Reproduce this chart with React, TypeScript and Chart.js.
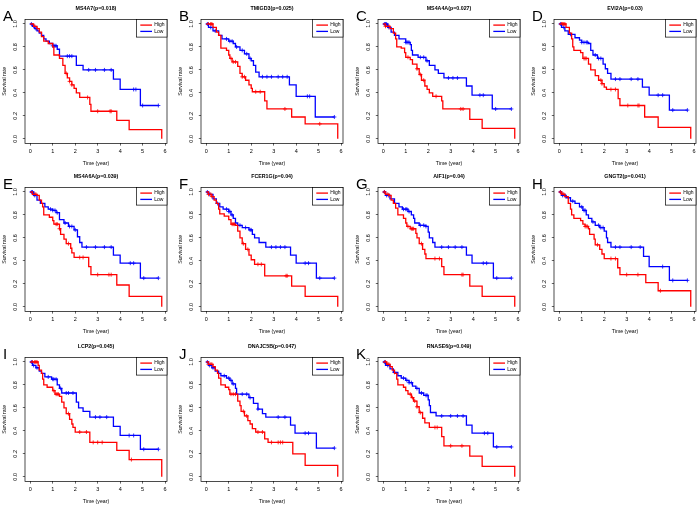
import React, { useEffect, useRef } from 'react';
import { Chart, registerables } from 'chart.js';
Chart.register(...registerables);

// ---- axis / labels ----
const X_TICKS = [0, 1, 2, 3, 4, 5, 6];
const Y_TICKS = [0, 0.2, 0.4, 0.6, 0.8, 1.0];
const X_MIN = -0.234, X_MAX = 6.084, Y_MIN = -0.04, Y_MAX = 1.04;
const X_TITLE = 'Time (year)';
const Y_TITLE = 'Survival rate';
const LEGEND_LABELS = ['High', 'Low'];
const RED = '#FF0000';
const BLUE = '#0000FF';

const LETTERS = ['A', 'B', 'C', 'D', 'E', 'F', 'G', 'H', 'I', 'J', 'K'];
const GENES = ['MS4A7', 'TMIGD3', 'MS4A4A', 'EVI2A', 'MS4A6A', 'FCER1G', 'AIF1', 'GNGT2', 'LCP2', 'DNAJC5B', 'RNASE6'];
const PVALUES = ['0.018', '0.025', '0.027', '0.03', '0.039', '0.04', '0.04', '0.041', '0.045', '0.047', '0.049'];

// ---- A ----
const A_HIGH_T = [0, 0.15, 0.3, 0.4, 0.5, 0.6, 0.8, 1.0, 1.05, 1.3, 1.45, 1.55, 1.65, 1.75, 1.85, 1.95, 2.05, 2.2, 2.65, 2.7, 3.85, 4.4, 5.85];
const A_HIGH_S = [1.0, 0.98, 0.96, 0.93, 0.89, 0.85, 0.83, 0.80, 0.73, 0.70, 0.64, 0.57, 0.53, 0.50, 0.47, 0.44, 0.40, 0.36, 0.30, 0.24, 0.16, 0.08, 0.0];
const A_HIGH_C = [0.2, 0.3, 1.6, 1.75, 1.85, 2.55, 3.0, 3.55, 3.6];
const A_LOW_T = [0, 0.1, 0.2, 0.3, 0.4, 0.5, 0.6, 0.7, 0.85, 1.0, 1.2, 1.3, 2.05, 2.35, 3.7, 4.0, 4.9, 5.7];
const A_LOW_S = [1.0, 0.98, 0.96, 0.94, 0.92, 0.90, 0.87, 0.85, 0.83, 0.81, 0.78, 0.72, 0.64, 0.60, 0.52, 0.43, 0.29, 0.29];
const A_LOW_C = [0.05, 0.15, 0.25, 1.0, 1.05, 1.1, 1.15, 1.65, 1.75, 1.85, 2.6, 2.9, 3.3, 3.6, 4.6, 4.7, 5.0, 5.7];

// ---- B ----
const B_HIGH_T = [0, 0.3, 0.45, 0.55, 0.65, 0.9, 1.0, 1.05, 1.15, 1.4, 1.5, 1.6, 1.75, 1.9, 2.0, 2.05, 2.6, 2.7, 3.8, 4.4, 5.85];
const B_HIGH_S = [1.0, 0.97, 0.93, 0.90, 0.79, 0.77, 0.73, 0.70, 0.67, 0.63, 0.57, 0.54, 0.51, 0.47, 0.44, 0.41, 0.33, 0.26, 0.19, 0.13, 0.0];
const B_HIGH_C = [0.1, 0.2, 0.25, 1.1, 1.2, 1.3, 1.6, 1.7, 2.2, 2.4, 3.5, 5.05];
const B_LOW_T = [0, 0.1, 0.3, 0.55, 0.7, 1.0, 1.2, 1.3, 1.5, 1.7, 1.9, 2.0, 2.1, 2.2, 2.35, 3.7, 4.0, 4.85, 5.7];
const B_LOW_S = [1.0, 0.97, 0.94, 0.90, 0.87, 0.85, 0.83, 0.80, 0.77, 0.74, 0.70, 0.68, 0.64, 0.58, 0.54, 0.47, 0.37, 0.19, 0.19];
const B_LOW_C = [0.05, 0.2, 0.4, 0.9, 1.05, 1.15, 1.35, 1.6, 1.8, 1.95, 2.5, 2.7, 2.9, 3.2, 3.4, 3.6, 4.5, 4.6, 5.7];

// ---- C ----
const C_HIGH_T = [0, 0.1, 0.3, 0.45, 0.55, 0.6, 0.8, 0.95, 1.0, 1.2, 1.3, 1.5, 1.6, 1.7, 1.85, 1.95, 2.05, 2.2, 2.6, 2.65, 3.85, 4.4, 5.85];
const C_HIGH_S = [1.0, 0.98, 0.96, 0.92, 0.87, 0.80, 0.79, 0.75, 0.71, 0.69, 0.65, 0.61, 0.56, 0.51, 0.46, 0.43, 0.40, 0.37, 0.33, 0.26, 0.17, 0.09, 0.0];
const C_HIGH_C = [0.1, 0.2, 0.25, 1.1, 1.5, 1.65, 1.8, 2.35, 3.45, 3.55];
const C_LOW_T = [0, 0.2, 0.35, 0.5, 0.7, 1.0, 1.2, 1.25, 1.3, 1.55, 1.9, 2.05, 2.3, 2.45, 2.7, 3.7, 3.95, 4.85, 5.7];
const C_LOW_S = [1.0, 0.97, 0.93, 0.90, 0.87, 0.84, 0.82, 0.77, 0.73, 0.71, 0.68, 0.64, 0.60, 0.57, 0.53, 0.46, 0.38, 0.26, 0.26];
const C_LOW_C = [0.05, 0.1, 0.15, 0.25, 1.0, 1.05, 1.1, 1.15, 1.65, 1.8, 1.95, 2.9, 3.1, 3.3, 4.3, 4.45, 5.0, 5.7];

// ---- D ----
const D_HIGH_T = [0, 0.3, 0.45, 0.55, 0.6, 0.65, 0.95, 1.05, 1.3, 1.4, 1.6, 1.75, 1.9, 2.0, 2.1, 2.62, 2.7, 3.8, 4.4, 5.85];
const D_HIGH_S = [1.0, 0.97, 0.92, 0.87, 0.80, 0.77, 0.75, 0.70, 0.65, 0.60, 0.55, 0.51, 0.48, 0.45, 0.43, 0.35, 0.29, 0.19, 0.10, 0.0];
const D_HIGH_C = [0.1, 0.15, 0.2, 0.25, 1.1, 1.15, 1.2, 1.85, 1.9, 2.3, 2.5, 3.05, 3.5, 3.55];
const D_LOW_T = [0, 0.1, 0.25, 0.4, 0.7, 0.9, 1.0, 1.3, 1.4, 1.5, 1.7, 1.95, 2.05, 2.15, 2.3, 3.7, 4.0, 4.9, 5.7];
const D_LOW_S = [1.0, 0.97, 0.94, 0.91, 0.88, 0.86, 0.84, 0.83, 0.77, 0.73, 0.70, 0.65, 0.61, 0.57, 0.52, 0.45, 0.38, 0.25, 0.25];
const D_LOW_C = [0.05, 0.2, 0.5, 1.0, 1.1, 1.2, 1.25, 1.6, 1.75, 1.85, 2.5, 2.7, 3.2, 3.5, 4.4, 4.6, 5.05, 5.7];

// ---- E ----
const E_HIGH_T = [0, 0.1, 0.3, 0.4, 0.5, 0.55, 0.6, 0.85, 1.0, 1.05, 1.3, 1.35, 1.5, 1.6, 1.8, 1.85, 1.95, 2.6, 2.7, 3.85, 4.4, 5.85];
const E_HIGH_S = [1.0, 0.98, 0.97, 0.93, 0.90, 0.87, 0.80, 0.78, 0.75, 0.72, 0.68, 0.63, 0.59, 0.55, 0.51, 0.47, 0.43, 0.35, 0.28, 0.19, 0.09, 0.0];
const E_HIGH_C = [0.15, 0.2, 0.25, 1.15, 1.2, 1.3, 1.7, 2.2, 2.35, 3.0, 3.5, 3.6];
const E_LOW_T = [0, 0.15, 0.3, 0.45, 0.65, 0.8, 1.0, 1.15, 1.3, 1.5, 1.7, 1.95, 2.1, 2.2, 2.3, 3.7, 4.0, 4.9, 5.7];
const E_LOW_S = [1.0, 0.97, 0.93, 0.90, 0.87, 0.85, 0.84, 0.82, 0.76, 0.73, 0.70, 0.67, 0.61, 0.56, 0.52, 0.45, 0.38, 0.25, 0.25];
const E_LOW_C = [0.05, 0.1, 0.2, 0.9, 1.0, 1.1, 1.2, 1.55, 1.75, 1.85, 2.0, 2.5, 2.9, 3.3, 3.6, 4.45, 4.6, 5.05, 5.7];

// ---- F ----
const F_HIGH_T = [0, 0.1, 0.25, 0.35, 0.45, 0.55, 0.6, 0.8, 1.0, 1.1, 1.3, 1.4, 1.5, 1.6, 1.75, 1.9, 2.0, 2.15, 2.6, 3.8, 4.4, 5.85];
const F_HIGH_S = [1.0, 0.98, 0.96, 0.93, 0.90, 0.85, 0.81, 0.79, 0.76, 0.72, 0.71, 0.66, 0.60, 0.55, 0.50, 0.45, 0.41, 0.37, 0.27, 0.18, 0.09, 0.0];
const F_HIGH_C = [0.1, 0.2, 0.25, 1.15, 1.2, 1.25, 1.65, 1.85, 2.3, 2.45, 3.55, 3.6];
const F_LOW_T = [0, 0.1, 0.3, 0.45, 0.6, 0.75, 1.0, 1.1, 1.2, 1.3, 1.4, 1.6, 1.9, 2.05, 2.15, 2.35, 2.65, 3.75, 4.0, 4.9, 5.7];
const F_LOW_S = [1.0, 0.98, 0.94, 0.90, 0.87, 0.85, 0.83, 0.80, 0.77, 0.73, 0.71, 0.69, 0.67, 0.63, 0.60, 0.56, 0.52, 0.45, 0.38, 0.25, 0.25];
const F_LOW_C = [0.05, 0.15, 0.5, 0.9, 1.0, 1.05, 1.15, 1.5, 1.75, 1.95, 2.0, 2.9, 3.1, 3.3, 3.5, 4.4, 4.55, 5.05, 5.7];

// ---- G ----
const G_HIGH_T = [0, 0.1, 0.25, 0.35, 0.45, 0.55, 0.65, 0.9, 1.0, 1.05, 1.2, 1.45, 1.5, 1.6, 1.75, 1.85, 1.9, 2.6, 2.7, 3.85, 4.4, 5.85];
const G_HIGH_S = [1.0, 0.98, 0.97, 0.93, 0.90, 0.86, 0.80, 0.77, 0.73, 0.70, 0.68, 0.64, 0.60, 0.55, 0.50, 0.46, 0.42, 0.35, 0.28, 0.18, 0.09, 0.0];
const G_HIGH_C = [0.05, 0.2, 0.25, 1.1, 1.25, 1.3, 1.35, 1.7, 2.3, 2.5, 3.5, 3.55];
const G_LOW_T = [0, 0.1, 0.3, 0.5, 0.7, 0.85, 1.1, 1.25, 1.35, 1.4, 1.6, 1.9, 2.0, 2.05, 2.2, 2.3, 3.7, 3.95, 4.9, 5.7];
const G_LOW_S = [1.0, 0.97, 0.94, 0.90, 0.87, 0.85, 0.83, 0.80, 0.77, 0.73, 0.71, 0.70, 0.65, 0.60, 0.56, 0.52, 0.45, 0.38, 0.25, 0.25];
const G_LOW_C = [0.05, 0.15, 0.25, 0.9, 1.0, 1.05, 1.15, 1.65, 1.8, 1.9, 2.6, 2.9, 3.2, 3.5, 4.45, 4.6, 5.05, 5.7];

// ---- H ----
const H_HIGH_T = [0, 0.1, 0.25, 0.4, 0.5, 0.55, 0.65, 0.95, 1.05, 1.15, 1.3, 1.35, 1.55, 1.6, 1.8, 1.9, 2.0, 2.6, 2.7, 3.85, 4.4, 5.85];
const H_HIGH_S = [1.0, 0.98, 0.96, 0.90, 0.85, 0.80, 0.77, 0.75, 0.72, 0.70, 0.68, 0.63, 0.59, 0.54, 0.50, 0.46, 0.42, 0.34, 0.28, 0.21, 0.14, 0.0];
const H_HIGH_C = [0.05, 0.15, 0.2, 1.15, 1.2, 1.25, 1.7, 2.3, 2.5, 3.0, 3.5, 4.5];
const H_LOW_T = [0, 0.1, 0.3, 0.5, 0.7, 0.9, 1.05, 1.2, 1.3, 1.45, 1.6, 1.8, 2.0, 2.1, 2.15, 2.3, 3.75, 4.0, 4.9, 5.7];
const H_LOW_S = [1.0, 0.97, 0.95, 0.92, 0.90, 0.87, 0.84, 0.80, 0.77, 0.74, 0.71, 0.69, 0.66, 0.60, 0.56, 0.52, 0.44, 0.35, 0.23, 0.23];
const H_LOW_C = [0.05, 0.15, 0.25, 0.6, 1.0, 1.1, 1.15, 1.5, 1.75, 1.85, 1.95, 2.5, 2.7, 3.2, 3.6, 4.6, 5.05, 5.7];

// ---- I ----
const I_HIGH_T = [0, 0.35, 0.4, 0.5, 0.55, 0.6, 0.75, 1.0, 1.1, 1.3, 1.4, 1.5, 1.6, 1.75, 1.85, 1.9, 2.0, 2.65, 3.85, 4.4, 5.85];
const I_HIGH_S = [1.0, 0.97, 0.93, 0.90, 0.85, 0.80, 0.78, 0.75, 0.72, 0.70, 0.65, 0.60, 0.55, 0.50, 0.46, 0.43, 0.39, 0.30, 0.23, 0.15, 0.0];
const I_HIGH_C = [0.1, 0.2, 0.25, 0.3, 1.05, 1.15, 1.2, 1.25, 1.7, 2.2, 2.5, 2.8, 3.0, 3.2, 4.5];
const I_LOW_T = [0, 0.1, 0.25, 0.4, 0.5, 0.65, 0.95, 1.2, 1.3, 1.4, 2.05, 2.15, 2.35, 2.65, 3.7, 4.0, 4.9, 5.7];
const I_LOW_S = [1.0, 0.97, 0.95, 0.92, 0.90, 0.87, 0.85, 0.80, 0.77, 0.73, 0.65, 0.60, 0.57, 0.52, 0.44, 0.36, 0.24, 0.24];
const I_LOW_C = [0.05, 0.15, 0.3, 0.8, 1.0, 1.05, 1.15, 1.35, 1.6, 1.7, 1.9, 2.9, 3.1, 3.4, 4.4, 4.6, 5.05, 5.7];

// ---- J ----
const J_HIGH_T = [0, 0.1, 0.3, 0.4, 0.5, 0.55, 0.65, 0.85, 1.0, 1.05, 1.4, 1.5, 1.55, 1.7, 1.85, 1.95, 2.05, 2.2, 2.6, 2.75, 3.85, 4.4, 5.85];
const J_HIGH_S = [1.0, 0.98, 0.96, 0.93, 0.90, 0.86, 0.80, 0.78, 0.76, 0.72, 0.66, 0.62, 0.57, 0.53, 0.49, 0.46, 0.42, 0.39, 0.33, 0.30, 0.20, 0.10, 0.0];
const J_HIGH_C = [0.1, 0.2, 0.25, 1.1, 1.2, 1.3, 1.65, 1.8, 2.3, 2.5, 2.9, 3.2, 3.3, 3.4];
const J_LOW_T = [0, 0.1, 0.25, 0.4, 0.55, 0.65, 0.9, 1.05, 1.15, 1.3, 1.35, 1.9, 2.1, 2.3, 2.5, 2.65, 3.75, 3.95, 4.9, 5.7];
const J_LOW_S = [1.0, 0.97, 0.95, 0.92, 0.90, 0.88, 0.86, 0.84, 0.81, 0.77, 0.72, 0.69, 0.64, 0.59, 0.55, 0.52, 0.45, 0.38, 0.25, 0.25];
const J_LOW_C = [0.05, 0.15, 0.3, 0.8, 1.0, 1.1, 1.2, 1.6, 1.8, 1.95, 2.3, 3.2, 3.5, 4.4, 4.55, 5.7];

// ---- K ----
const K_HIGH_T = [0, 0.15, 0.3, 0.4, 0.5, 0.6, 0.65, 0.9, 1.0, 1.1, 1.25, 1.35, 1.5, 1.6, 1.75, 1.85, 2.05, 2.6, 2.7, 3.85, 4.4, 5.85];
const K_HIGH_S = [1.0, 0.98, 0.96, 0.93, 0.90, 0.85, 0.80, 0.78, 0.75, 0.72, 0.69, 0.66, 0.61, 0.56, 0.51, 0.47, 0.43, 0.35, 0.27, 0.18, 0.09, 0.0];
const K_HIGH_C = [0.1, 0.2, 0.25, 1.2, 1.3, 1.4, 1.5, 1.65, 2.3, 2.4, 3.0, 3.5];
const K_LOW_T = [0, 0.1, 0.3, 0.45, 0.65, 0.8, 1.0, 1.15, 1.3, 1.45, 1.6, 1.8, 2.0, 2.05, 2.1, 2.35, 3.7, 3.95, 4.9, 5.7];
const K_LOW_S = [1.0, 0.97, 0.94, 0.91, 0.88, 0.86, 0.84, 0.82, 0.79, 0.77, 0.73, 0.71, 0.67, 0.62, 0.56, 0.53, 0.45, 0.38, 0.26, 0.26];
const K_LOW_C = [0.05, 0.2, 0.5, 0.9, 1.05, 1.15, 1.25, 1.5, 1.7, 1.9, 1.95, 2.6, 3.0, 3.3, 3.55, 4.5, 4.65, 5.05, 5.7];

const PANELS = [
  [A_HIGH_T, A_HIGH_S, A_HIGH_C, A_LOW_T, A_LOW_S, A_LOW_C],
  [B_HIGH_T, B_HIGH_S, B_HIGH_C, B_LOW_T, B_LOW_S, B_LOW_C],
  [C_HIGH_T, C_HIGH_S, C_HIGH_C, C_LOW_T, C_LOW_S, C_LOW_C],
  [D_HIGH_T, D_HIGH_S, D_HIGH_C, D_LOW_T, D_LOW_S, D_LOW_C],
  [E_HIGH_T, E_HIGH_S, E_HIGH_C, E_LOW_T, E_LOW_S, E_LOW_C],
  [F_HIGH_T, F_HIGH_S, F_HIGH_C, F_LOW_T, F_LOW_S, F_LOW_C],
  [G_HIGH_T, G_HIGH_S, G_HIGH_C, G_LOW_T, G_LOW_S, G_LOW_C],
  [H_HIGH_T, H_HIGH_S, H_HIGH_C, H_LOW_T, H_LOW_S, H_LOW_C],
  [I_HIGH_T, I_HIGH_S, I_HIGH_C, I_LOW_T, I_LOW_S, I_LOW_C],
  [J_HIGH_T, J_HIGH_S, J_HIGH_C, J_LOW_T, J_LOW_S, J_LOW_C],
  [K_HIGH_T, K_HIGH_S, K_HIGH_C, K_LOW_T, K_LOW_S, K_LOW_C],
];

// ---- layout ----
const COL_X = [0, 176, 353, 529];
const ROW_Y = [0, 168, 338];
const PANEL_W = 176;
const PANEL_H = 168;
const PLOT_LEFT = 25;
const PLOT_TOP = 19.4;
const PLOT_W = 142;
const PLOT_H = 124;
const FONT = "'Liberation Sans', Arial, Helvetica, sans-serif";

function stepAt(ts: number[], ss: number[], t: number) {
  let v = ss[0];
  for (let i = 0; i < ts.length; i++) if (ts[i] <= t) v = ss[i];
  return v;
}

const framePlugin = {
  id: 'rFrame',
  afterDraw(chart: any) {
    const { ctx, chartArea } = chart;
    const { left, right, top, bottom } = chartArea;
    ctx.save();
    ctx.strokeStyle = '#000';
    ctx.lineWidth = 0.7;
    ctx.strokeRect(left, top, right - left, bottom - top);
    // legend (top right)
    const w = 30.5, h = 17.7;
    ctx.fillStyle = '#fff';
    ctx.fillRect(right - w, top, w, h);
    ctx.strokeRect(right - w, top, w, h);
    const colors = [RED, BLUE];
    const ys = [top + 5.7, top + 12];
    ctx.font = `5px ${FONT}`;
    ctx.textBaseline = 'middle';
    ctx.textAlign = 'left';
    for (let i = 0; i < 2; i++) {
      ctx.strokeStyle = colors[i];
      ctx.lineWidth = 1.3;
      ctx.beginPath();
      ctx.moveTo(right - 26.7, ys[i]);
      ctx.lineTo(right - 15, ys[i]);
      ctx.stroke();
      ctx.fillStyle = '#000';
      ctx.fillText(LEGEND_LABELS[i], right - 12.7, ys[i]);
    }
    ctx.restore();
  },
};

function KMPanel({ idx }: { idx: number }) {
  const ref = useRef<HTMLCanvasElement>(null);
  useEffect(() => {
    const [hT, hS, hC, lT, lS, lC] = PANELS[idx];
    const line = (ts: number[], ss: number[]) => ts.map((t, i) => ({ x: t, y: ss[i] }));
    const cens = (ts: number[], ss: number[], cs: number[]) => cs.map((c) => ({ x: c, y: stepAt(ts, ss, c) }));
    const chart = new Chart(ref.current!, {
      type: 'line',
      data: {
        datasets: [
          { label: 'High', data: line(hT, hS), borderColor: RED, borderWidth: 1.3, stepped: true, pointRadius: 0, fill: false } as any,
          { label: 'Low', data: line(lT, lS), borderColor: BLUE, borderWidth: 1.3, stepped: true, pointRadius: 0, fill: false } as any,
          { type: 'scatter', label: 'High censored', data: cens(hT, hS, hC), pointStyle: 'cross', pointRadius: 2, borderColor: RED, borderWidth: 0.8, showLine: false } as any,
          { type: 'scatter', label: 'Low censored', data: cens(lT, lS, lC), pointStyle: 'cross', pointRadius: 2, borderColor: BLUE, borderWidth: 0.8, showLine: false } as any,
        ],
      },
      options: {
        responsive: false,
        animation: false,
        devicePixelRatio: 1,
        layout: { padding: { left: 0, top: 0, bottom: 0, right: PANEL_W - PLOT_LEFT - PLOT_W } },
        plugins: {
          legend: { display: false },
          tooltip: { enabled: false },
          title: {
            display: true,
            text: `${GENES[idx]}(p=${PVALUES[idx]})`,
            fullSize: false,
            color: '#000',
            font: { family: FONT, size: 5.3, weight: 'bold', lineHeight: 1.2 },
            padding: { top: 5.7, bottom: PLOT_TOP - 5.7 - 5.3 * 1.2 },
          },
        },
        scales: {
          x: {
            type: 'linear',
            min: X_MIN,
            max: X_MAX,
            afterBuildTicks: (s: any) => { s.ticks = X_TICKS.map((v) => ({ value: v })); },
            afterFit: (s: any) => { s.height = PANEL_H - PLOT_TOP - PLOT_H; },
            border: { display: false },
            grid: { drawOnChartArea: false, drawTicks: true, tickLength: 2.2, color: '#000', lineWidth: 0.6 },
            ticks: { autoSkip: false, maxRotation: 0, minRotation: 0, padding: 2.8, color: '#000', font: { family: FONT, size: 5.5 } },
            title: { display: true, text: X_TITLE, color: '#000', font: { family: FONT, size: 5.2, lineHeight: 1.2 }, padding: { top: 0, bottom: 0.9 } },
          },
          y: {
            type: 'linear',
            min: Y_MIN,
            max: Y_MAX,
            afterBuildTicks: (s: any) => { s.ticks = Y_TICKS.map((v) => ({ value: v })); },
            afterFit: (s: any) => { s.width = PLOT_LEFT; },
            border: { display: false },
            grid: { drawOnChartArea: false, drawTicks: true, tickLength: 2.2, color: '#000', lineWidth: 0.6 },
            ticks: {
              autoSkip: false, minRotation: 90, maxRotation: 90, crossAlign: 'center', padding: 3.6, color: '#000',
              font: { family: FONT, size: 5.5 },
              callback: (v: any) => Number(v).toFixed(1),
            },
            title: { display: true, text: Y_TITLE, color: '#000', font: { family: FONT, size: 5.2, lineHeight: 1.2 }, padding: { top: 1.4, bottom: 0 } },
          },
        },
      } as any,
      plugins: [framePlugin],
    });
    return () => chart.destroy();
  }, [idx]);
  const col = idx % 4;
  const row = Math.floor(idx / 4);
  return (
    <>
      <canvas
        ref={ref}
        width={PANEL_W}
        height={PANEL_H}
        style={{ position: 'absolute', left: COL_X[col], top: ROW_Y[row], width: PANEL_W, height: PANEL_H }}
      />
      <div
        style={{
          position: 'absolute', left: COL_X[col] + 3, top: ROW_Y[row] + 8,
          fontFamily: FONT, fontSize: 15, lineHeight: '15px', color: '#000',
        }}
      >
        {LETTERS[idx]}
      </div>
    </>
  );
}

export default function App() {
  return (
    <div style={{ position: 'absolute', left: 0, top: 0, width: 700, height: 507, background: '#fff', overflow: 'hidden' }}>
      {LETTERS.map((_, i) => <KMPanel key={i} idx={i} />)}
    </div>
  );
}
